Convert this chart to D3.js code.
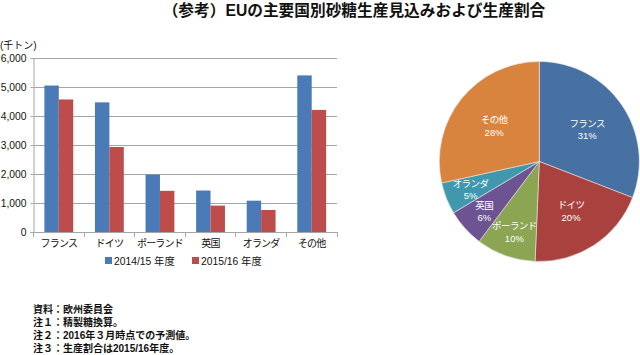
<!DOCTYPE html>
<html><head><meta charset="utf-8">
<script src="https://cdn.jsdelivr.net/npm/d3@7"></script>
<style>
html,body{margin:0;padding:0;background:#fff;}
svg{display:block;font-family:"Liberation Sans","Noto Sans CJK JP",sans-serif;}
</style></head>
<body><svg id="c" width="640" height="355"></svg>
<script>
const categories = ["フランス","ドイツ","ポーランド","英国","オランダ","その他"];
const series = ["2014/15 年度","2015/16 年度"];
const values2014 = [5050,4470,1980,1430,1080,5400];
const values2015 = [4570,2930,1420,910,760,4210];
const yTicks = [0,1000,2000,3000,4000,5000,6000];
const notes = ["資料：欧州委員会","注１：精製糖換算。","注２：2016年３月時点での予測値。","注３：生産割合は2015/16年度。"];
const title = "（参考）EUの主要国別砂糖生産見込みおよび生産割合";
const unit = "(千トン)";

const barColors = ["#4a7bb7","#bd4d4a"];
const pieColors = ["#4770a3","#a9423f","#8ba552","#6d5391","#3f98ae","#d8843e"];

const svg = d3.select("#c");
svg.append("text").attr("x",354).attr("y",16).attr("text-anchor","middle")
  .attr("font-size",15.7).attr("font-weight","bold").attr("fill","#111").text(title);

// bar chart
const L=33.5, R=337, T=58, B=232;
const x0 = d3.scaleBand().domain(categories).range([L,R]).paddingInner(0.43).paddingOuter(0.215);
const x1 = d3.scaleBand().domain(series).range([0,x0.bandwidth()]);
const y = d3.scaleLinear().domain([0,6000]).range([B,T]);

const g = svg.append("g");
g.selectAll("line.grid").data(yTicks.slice(1)).join("line")
  .attr("x1",L).attr("x2",R).attr("y1",d=>y(d)).attr("y2",d=>y(d))
  .attr("stroke","#a6a6a6").attr("stroke-width",1).attr("shape-rendering","crispEdges");
const yAxis = d3.axisLeft(y).tickValues(yTicks).tickSize(3).tickFormat(d3.format(","));
const ya = g.append("g").attr("transform",`translate(${L},0)`).call(yAxis);
ya.select(".domain").attr("stroke","#a6a6a6");
ya.selectAll(".tick line").attr("stroke","#a6a6a6");
ya.selectAll("text").attr("font-size",10.3).attr("fill","#111").attr("font-family","Liberation Sans, Arial, sans-serif").attr("dx",-1);

const data = categories.map((c,i)=>({c, v:[values2014[i],values2015[i]]}));
const grp = g.selectAll("g.cat").data(data).join("g").attr("transform",d=>`translate(${x0(d.c)},0)`);
grp.selectAll("rect").data(d=>d.v.map((v,j)=>({s:series[j],v,j}))).join("rect")
  .attr("x",d=>x1(d.s)).attr("width",x1.bandwidth())
  .attr("y",d=>y(d.v)).attr("height",d=>B-y(d.v)).attr("fill",d=>barColors[d.j]);

const xa = g.append("g").attr("transform",`translate(0,${B})`);
xa.append("line").attr("x1",L).attr("x2",R).attr("stroke","#a6a6a6").attr("shape-rendering","crispEdges");
const bounds = d3.range(categories.length+1).map(i=>L+i*(R-L)/categories.length);
xa.selectAll("line.t").data(bounds).join("line").attr("class","t")
  .attr("x1",d=>d).attr("x2",d=>d).attr("y1",0).attr("y2",5).attr("stroke","#a6a6a6").attr("shape-rendering","crispEdges");
xa.selectAll("text").data(categories).join("text")
  .attr("x",d=>x0(d)+x0.bandwidth()/2).attr("y",15).attr("text-anchor","middle")
  .attr("font-size",10).attr("letter-spacing",-0.8).attr("fill","#111").text(d=>d);

svg.append("text").attr("x",0).attr("y",49).attr("font-size",10).attr("fill","#111").text(unit);

const lg = svg.append("g").attr("transform","translate(105,261)");
const lgx = [0,87];
series.forEach((s,i)=>{
  lg.append("rect").attr("x",lgx[i]).attr("y",-4).attr("width",7).attr("height",7).attr("fill",barColors[i]);
  lg.append("text").attr("x",lgx[i]+9).attr("y",3.5).attr("font-size",10.3).attr("fill","#111").text(s);
});

svg.selectAll("text.note").data(notes).join("text").attr("class","note")
  .attr("x",33).attr("y",(d,i)=>312.5+i*13).attr("font-size",10).attr("font-weight","bold").attr("fill","#111").text(d=>d);

// pie
const cx=539.3, cy=161.5, r=100;
const total = d3.sum(values2015);
const pie = d3.pie().sort(null).value(d=>d.v);
const arcs = pie(categories.map((c,i)=>({c,v:values2015[i],i})));
const arc = d3.arc().innerRadius(0).outerRadius(r);
const pg = svg.append("g").attr("transform",`translate(${cx},${cy})`);
pg.selectAll("path").data(arcs).join("path").attr("d",arc)
  .attr("fill",d=>pieColors[d.data.i]).attr("stroke","#e8e8e8").attr("stroke-width",0.6);
const lab = pg.selectAll("g.lab").data(arcs).join("g").attr("class","lab")
  .attr("transform",d=>{
    const share=d.data.v/total; const lr = share<0.15?74:58;
    const a=(d.startAngle+d.endAngle)/2;
    return `translate(${Math.sin(a)*lr},${-Math.cos(a)*lr})`;
  });
lab.append("text").attr("y",-2).attr("text-anchor","middle").attr("font-size",9.5).attr("letter-spacing",-0.6).attr("fill","#fff").text(d=>d.data.c);
lab.append("text").attr("y",10.5).attr("text-anchor","middle").attr("font-size",9.5).attr("fill","#fff")
  .text(d=>Math.round(d.data.v/total*100)+"%");
</script></body></html>
